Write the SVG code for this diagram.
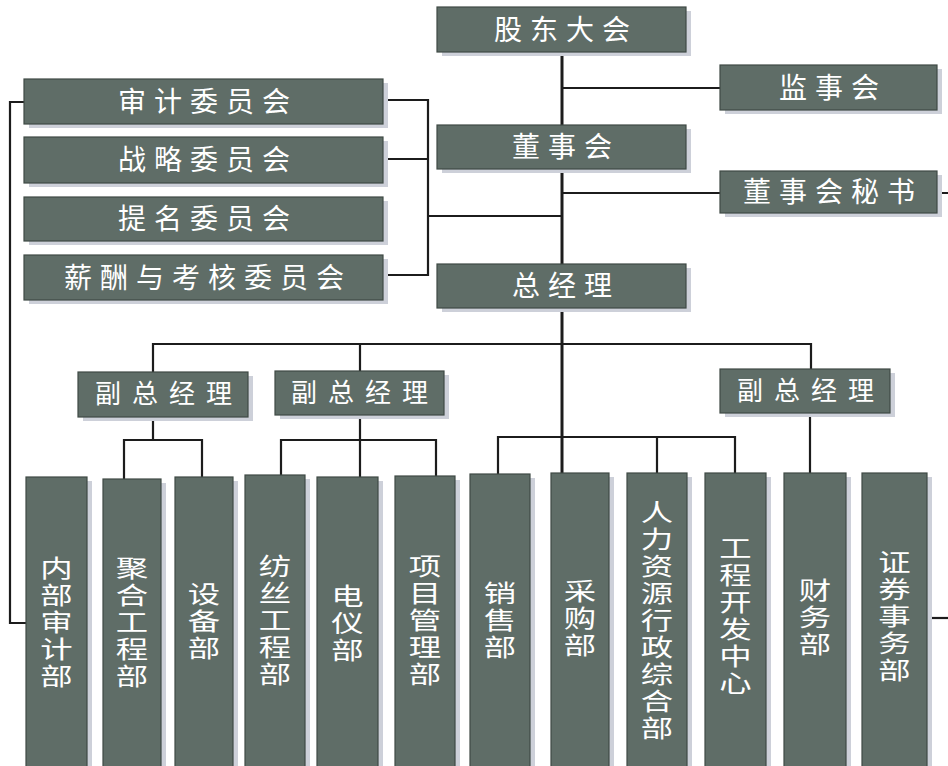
<svg xmlns="http://www.w3.org/2000/svg" width="948" height="766" viewBox="0 0 948 766">
<style>
.box{fill:#5f6d67;stroke:#3f4a45;stroke-width:1.2}
.sh{fill:#cdd0d9}
.t{fill:#ffffff;font-family:"Noto Sans CJK SC","Noto Sans",sans-serif;font-size:28px;letter-spacing:8px;text-anchor:middle}
.s{font-size:26px;letter-spacing:11px}
.v{fill:#ffffff;font-family:"Noto Sans CJK SC","Noto Sans",sans-serif;font-size:24px;letter-spacing:3px;text-anchor:middle;writing-mode:vertical-rl;text-orientation:upright}
.ln{fill:none;stroke:#1c1c1c;stroke-width:2.2}
.tr{fill:none;stroke:#1c1c1c;stroke-width:3}
</style>
<rect width="948" height="766" fill="#ffffff"/>
<g id="connectors">
<path class="tr" d="M562 52V264M562 308V473"/>
<path class="ln" d="M562 88H720M562 193H720M937 193H948M428 216H562"/>
<path class="ln" d="M383 100H428V275H383M383 159H428"/>
<path class="ln" d="M24 102H10V623H26"/>
<path class="ln" d="M153 372V344H811V369M360 344V371"/>
<path class="ln" d="M153 417V440M124 479V440H202V477"/>
<path class="ln" d="M360 415V440M281 475V440H436V476M360 440V477"/>
<path class="ln" d="M498 474V437H735V473M657 437V473"/>
<path class="ln" d="M810 413V473"/>
<path class="ln" d="M927 618H948"/>
</g>
<g id="n-gudong"><rect class="sh" x="442" y="11" width="249" height="45"/><rect class="box" x="437" y="7" width="249" height="45"/><text class="t" x="566" y="40">股东大会</text></g>
<g id="n-jianshi"><rect class="sh" x="725" y="69" width="217" height="45"/><rect class="box" x="720" y="65" width="217" height="45"/><text class="t" x="833" y="98">监事会</text></g>
<g id="n-dongshi"><rect class="sh" x="442" y="129" width="249" height="44"/><rect class="box" x="437" y="125" width="249" height="44"/><text class="t" x="566" y="157">董事会</text></g>
<g id="n-mishu"><rect class="sh" x="725" y="175" width="217" height="42"/><rect class="box" x="720" y="171" width="217" height="42"/><text class="t" x="833" y="202">董事会秘书</text></g>
<g id="n-zongjingli"><rect class="sh" x="442" y="268" width="249" height="44"/><rect class="box" x="437" y="264" width="249" height="44"/><text class="t" x="566" y="296">总经理</text></g>
<g id="n-shenji"><rect class="sh" x="29" y="83" width="359" height="45"/><rect class="box" x="24" y="79" width="359" height="45"/><text class="t" x="208" y="112">审计委员会</text></g>
<g id="n-zhanlue"><rect class="sh" x="29" y="141" width="359" height="46"/><rect class="box" x="24" y="137" width="359" height="46"/><text class="t" x="208" y="170">战略委员会</text></g>
<g id="n-timing"><rect class="sh" x="29" y="201" width="359" height="44"/><rect class="box" x="24" y="197" width="359" height="44"/><text class="t" x="208" y="229">提名委员会</text></g>
<g id="n-xinchou"><rect class="sh" x="29" y="259" width="359" height="45"/><rect class="box" x="24" y="255" width="359" height="45"/><text class="t" x="208" y="288">薪酬与考核委员会</text></g>
<g id="n-fu1"><rect class="sh" x="83" y="376" width="170" height="45"/><rect class="box" x="78" y="372" width="170" height="45"/><text class="t s" x="169" y="403">副总经理</text></g>
<g id="n-fu2"><rect class="sh" x="280" y="375" width="169" height="44"/><rect class="box" x="275" y="371" width="169" height="44"/><text class="t s" x="365" y="402">副总经理</text></g>
<g id="n-fu3"><rect class="sh" x="725" y="373" width="170" height="44"/><rect class="box" x="720" y="369" width="170" height="44"/><text class="t s" x="811" y="400">副总经理</text></g>
<g id="n-neibu"><rect class="sh" x="31" y="481" width="61" height="300"/><rect class="box" x="26" y="477" width="61" height="300"/><text class="v" transform="translate(56.5,0) scale(1.35,1)" x="0" y="623">内部审计部</text></g>
<g id="n-juhe"><rect class="sh" x="108" y="483" width="58" height="300"/><rect class="box" x="103" y="479" width="58" height="300"/><text class="v" transform="translate(132,0) scale(1.35,1)" x="0" y="623">聚合工程部</text></g>
<g id="n-shebei"><rect class="sh" x="180" y="481" width="58" height="300"/><rect class="box" x="175" y="477" width="58" height="300"/><text class="v" transform="translate(204,0) scale(1.35,1)" x="0" y="622">设备部</text></g>
<g id="n-fangsi"><rect class="sh" x="250" y="479" width="60" height="300"/><rect class="box" x="245" y="475" width="60" height="300"/><text class="v" transform="translate(275,0) scale(1.35,1)" x="0" y="621">纺丝工程部</text></g>
<g id="n-dianyi"><rect class="sh" x="322" y="481" width="61" height="300"/><rect class="box" x="317" y="477" width="61" height="300"/><text class="v" transform="translate(347.5,0) scale(1.35,1)" x="0" y="624">电仪部</text></g>
<g id="n-xiangmu"><rect class="sh" x="400" y="480" width="60" height="300"/><rect class="box" x="395" y="476" width="60" height="300"/><text class="v" transform="translate(425,0) scale(1.35,1)" x="0" y="621">项目管理部</text></g>
<g id="n-xiaoshou"><rect class="sh" x="475" y="478" width="60" height="300"/><rect class="box" x="470" y="474" width="60" height="300"/><text class="v" transform="translate(500,0) scale(1.35,1)" x="0" y="621">销售部</text></g>
<g id="n-caigou"><rect class="sh" x="556" y="477" width="58" height="300"/><rect class="box" x="551" y="473" width="58" height="300"/><text class="v" transform="translate(580,0) scale(1.35,1)" x="0" y="619">采购部</text></g>
<g id="n-renli"><rect class="sh" x="632" y="477" width="60" height="300"/><rect class="box" x="627" y="473" width="60" height="300"/><text class="v" transform="translate(657,0) scale(1.35,1)" x="0" y="621">人力资源行政综合部</text></g>
<g id="n-gongcheng"><rect class="sh" x="710" y="477" width="61" height="300"/><rect class="box" x="705" y="473" width="61" height="300"/><text class="v" transform="translate(735.5,0) scale(1.35,1)" x="0" y="617">工程开发中心</text></g>
<g id="n-caiwu"><rect class="sh" x="789" y="477" width="62" height="300"/><rect class="box" x="784" y="473" width="62" height="300"/><text class="v" transform="translate(815,0) scale(1.35,1)" x="0" y="618">财务部</text></g>
<g id="n-zhengquan"><rect class="sh" x="867" y="477" width="65" height="300"/><rect class="box" x="862" y="473" width="65" height="300"/><text class="v" transform="translate(894.5,0) scale(1.35,1)" x="0" y="617">证券事务部</text></g>
</svg>
